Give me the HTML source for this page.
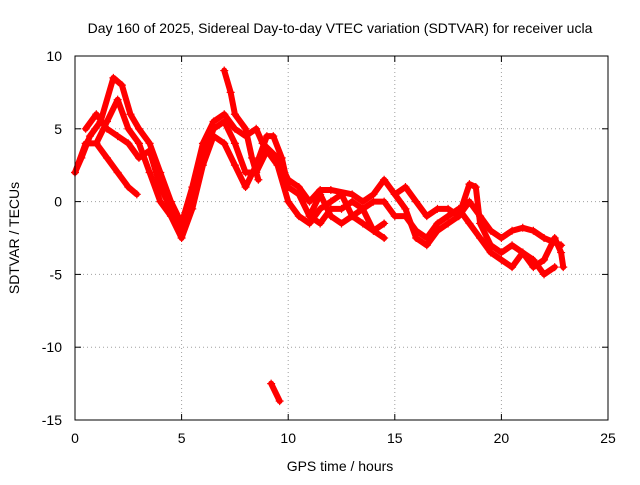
<!DOCTYPE html>
<html><head><meta charset="utf-8"><style>
body{margin:0;background:#fff;}
svg text{font-family:"Liberation Sans",sans-serif;font-size:14px;fill:#000;}
</style></head><body>
<svg id="chart" width="640" height="480" viewBox="0 0 640 480" xmlns="http://www.w3.org/2000/svg">
<text x="340" y="33" text-anchor="middle">Day 160 of 2025, Sidereal Day-to-day VTEC variation (SDTVAR) for receiver ucla</text>
<text x="340" y="471" text-anchor="middle">GPS time / hours</text>
<text transform="translate(19,238) rotate(-90)" text-anchor="middle">SDTVAR / TECUs</text>
<g id="grid"></g>
<g id="ticks"></g>
<g id="series"></g>
<rect x="75" y="56" width="533" height="364" fill="none" stroke="#000" stroke-width="1"/>
</svg>
<script>
const xTicks=[0,5,10,15,20,25];
const yTicks=[10,5,0,-5,-10,-15];
const trackA=[[0,2],[0.3,3],[0.7,4.5],[1.2,5.5],[1.8,8.5],[2.2,8],[2.6,6],[3,5],[3.5,4],[4,2],[4.5,0],[5,-1.5],[5.5,1],[6,4],[6.5,5.5],[7,6],[7.5,5],[8,4.5],[8.5,5],[8.8,4],[9.5,3],[10,1.5],[10.5,1],[11,0],[11.5,0.8],[12,0.8],[13,0.5],[13.5,0],[14,0.5],[14.5,1.5],[15,0.5],[15.5,1],[16,0],[16.5,-1],[17,-0.5],[17.5,-0.5],[18,-1],[18.5,0],[19,-1],[19.5,-2],[20,-2.5],[20.5,-2],[21,-1.8],[21.5,-2],[22,-2.5],[22.8,-3]];
const trackB=[[0,2],[0.5,4],[1,4],[1.5,5.5],[2,7],[2.5,5],[3,4],[3.5,2],[4,0],[4.5,-1],[5,-2.5],[5.5,-0.5],[6,2.5],[6.5,4.5],[7,4],[7.5,2.5],[8,1],[8.5,2.5],[9,4.5],[9.3,4.5],[9.7,3],[10,1],[10.5,0.5],[11,-1],[11.5,-1.5],[12,-0.5],[12.5,-0.5],[13,0],[13.5,-0.5],[14,-2],[14.5,-2.5]];
const trackC=[[0.5,5],[1,6],[1.5,5],[2,4.5],[2.5,4],[3,3],[3.5,3.5],[4,1],[4.5,-0.5],[5,-2],[5.5,0],[6,3],[6.5,5],[7,5.5],[7.5,4],[8,2],[8.5,2],[9,3.5],[9.5,2.5],[10,0],[10.5,-1],[11,-1.5],[11.5,-0.5],[12,0],[12.5,0.5],[13,-1],[13.5,-0.5],[14,0],[14.5,0],[15,-1],[15.5,-1],[16,-2],[16.5,-2.5],[17,-1.5],[17.5,-1],[18,-0.5],[18.5,-1.5],[19,-2.5],[19.5,-3.5],[20,-4],[20.5,-4.5],[21,-3.5],[21.5,-4],[22,-5],[22.5,-4.5]];
const trackD=[[1,4],[1.5,3],[2,2],[2.5,1],[2.9,0.5]];
const trackE=[[7,9],[7.3,7.5],[7.5,6],[8,5],[8.3,3],[8.6,1.5]];
const trackF=[[9.2,-12.5],[9.6,-13.7]];
const trackG=[[15,0.5],[15.5,-0.5],[16,-2.5],[16.5,-3],[17,-2],[17.5,-1.5],[18,-1],[18.5,1.2],[18.8,1],[19,-1.5],[19.5,-3],[20,-3.5],[20.5,-3],[21,-3.5],[21.5,-4.5],[22,-4],[22.5,-2.5],[22.8,-3.5],[22.9,-4.5]];
const trackH=[[11,-1],[11.5,0.5],[12,-1],[12.5,-1.5],[13,-1],[13.5,-1.5],[14,-2],[14.5,-1.5]];
const tracks=[trackA,trackB,trackC,trackD,trackE,trackF,trackG,trackH];
const X0=75,X1=608,Y0=420,Y1=56;
const sx=v=>X0+(v-0)/25*(X1-X0);
const sy=v=>Y0-(v+15)/25*(Y0-Y1);
const NS="http://www.w3.org/2000/svg";
const grid=document.getElementById('grid'),ticks=document.getElementById('ticks'),ser=document.getElementById('series');
function mk(t,a,p){const e=document.createElementNS(NS,t);for(const k in a)e.setAttribute(k,a[k]);p.appendChild(e);return e;}
xTicks.forEach(v=>{const x=sx(v);
 if(v>0&&v<25){const g=mk('line',{x1:x,x2:x,y1:Y1,y2:Y0,stroke:'#a0a0a0','stroke-dasharray':'1,3'},grid);
 
 }
 const t=mk('text',{x:x,y:443,'text-anchor':'middle'},ticks);t.textContent=v;
 
 
 mk('line',{x1:x,x2:x,y1:Y0,y2:Y0-6,stroke:'#000'},ticks);
 mk('line',{x1:x,x2:x,y1:Y1,y2:Y1+6,stroke:'#000'},ticks);});
yTicks.forEach(v=>{const y=sy(v);
 if(v>-15&&v<10){const g=mk('line',{x1:X0,x2:X1,y1:y,y2:y,stroke:'#a0a0a0','stroke-dasharray':'1,3'},grid);
 
 }
 const t=mk('text',{x:62,y:y+5,'text-anchor':'end'},ticks);t.textContent=v;
 
 
 mk('line',{x1:X0,x2:X0+6,y1:y,y2:y,stroke:'#000'},ticks);
 mk('line',{x1:X1,x2:X1-6,y1:y,y2:y,stroke:'#000'},ticks);});
tracks.forEach((tr,i)=>{
 const p=mk('polyline',{points:tr.map(d=>sx(d[0])+','+sy(d[1])).join(' '),fill:'none',stroke:'#ff0000','stroke-width':6,'stroke-linejoin':'round','stroke-linecap':'round'},ser);
 
 
 tr.forEach(d=>{const x=sx(d[0]),y=sy(d[1]);
  const m=mk('path',{d:`M${x-4},${y}H${x+4}M${x},${y-4}V${y+4}`,stroke:'#ff0000','stroke-width':1.2},ser);
  
  });
});
</script>
</body></html>
